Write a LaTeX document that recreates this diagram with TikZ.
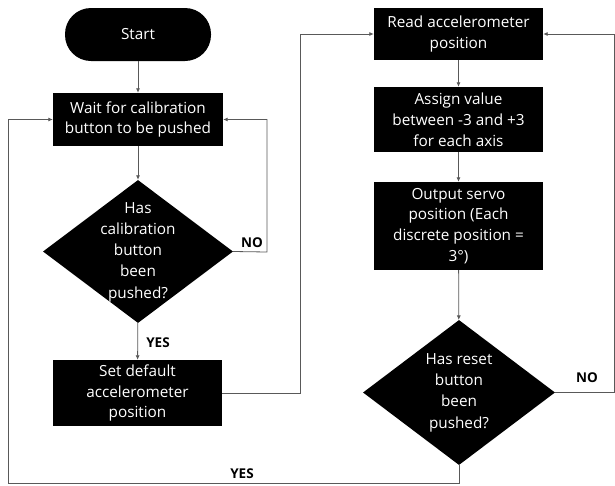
\documentclass[tikz,border=0pt]{standalone}
\usepackage{fontspec}
\setmainfont{Open Sans}
\usetikzlibrary{shapes.geometric,arrows.meta}
\begin{document}
\begin{tikzpicture}[x=1pt,y=-1pt,
  box/.style={fill=black,text=white,inner sep=0pt,align=center,minimum width=169pt,font=\fontsize{15.3}{20.8}\selectfont},
  pill/.style={box,rounded corners=26pt,minimum width=146pt,minimum height=53pt},
  dia/.style={diamond,fill=black,inner sep=0pt},
  dtext/.style={text=white,align=center,inner sep=0pt,font=\fontsize{15.3}{21.3}\selectfont},
  lbl/.style={inner sep=0pt,font=\fontsize{13.5}{15}\selectfont\bfseries},
  arr/.style={draw=black!65,line width=0.8pt,-{Latex[length=4.5pt,width=4pt]}},
  ln/.style={draw=black!65,line width=0.8pt}]
\useasboundingbox (0,0) rectangle (615,485);
% left column
\node[pill] (start) at (138,34.5) {Start};
\node[box,minimum width=170pt,minimum height=53pt] (wait) at (138,119.5) {Wait for calibration\\button to be pushed};
\node[dia,minimum width=190pt,minimum height=143pt] (d1) at (138,251.5) {};
\node[dtext] (d1t) at (138,252) {Has\\calibration\\button\\been\\pushed?};
\node[box,minimum height=66pt] (set) at (137.5,393) {Set default\\accelerometer\\position};
% right column
\node[box,minimum height=52pt] (read) at (458.5,34) {Read accelerometer\\position};
\node[box,minimum height=65pt] (assign) at (458.5,119.5) {Assign value\\between -3 and +3\\for each axis};
\node[box,minimum height=88pt] (output) at (458.5,226) {Output servo\\position (Each\\discrete position =\\3°)};
\node[dia,minimum width=192pt,minimum height=145pt] (d2) at (459,392.5) {};
\node[dtext] (d2t) at (459,392.5) {Has reset\\button\\been\\pushed?};
% labels
\node[lbl] (yes1) at (158,343) {YES};
\node[lbl] (no1) at (252,243) {NO};
\node[lbl] (no2) at (587,378) {NO};
\node[lbl] (yes2) at (242,474) {YES};
% helper coordinates
\coordinate (c1) at (267,252);
\coordinate (c2) at (300,393);
\coordinate (c3) at (614,392.5);
\coordinate (c4) at (8,483);
% connectors
\draw[arr] (start) -- (wait);
\draw[arr] (wait) -- (d1);
\draw[arr] (d1) -- (set);
\draw[arr] (d1.east) -- (c1) |- (wait.east);
\draw[arr] (set.east) -- (c2) |- (read.west);
\draw[arr] (read) -- (assign);
\draw[arr] (assign) -- (output);
\draw[arr] (output) -- (d2);
\draw[arr] (d2.east) -- (c3) |- (read.east);
\draw[arr] (d2.south) |- (c4) |- (wait.west);
\end{tikzpicture}
\end{document}
